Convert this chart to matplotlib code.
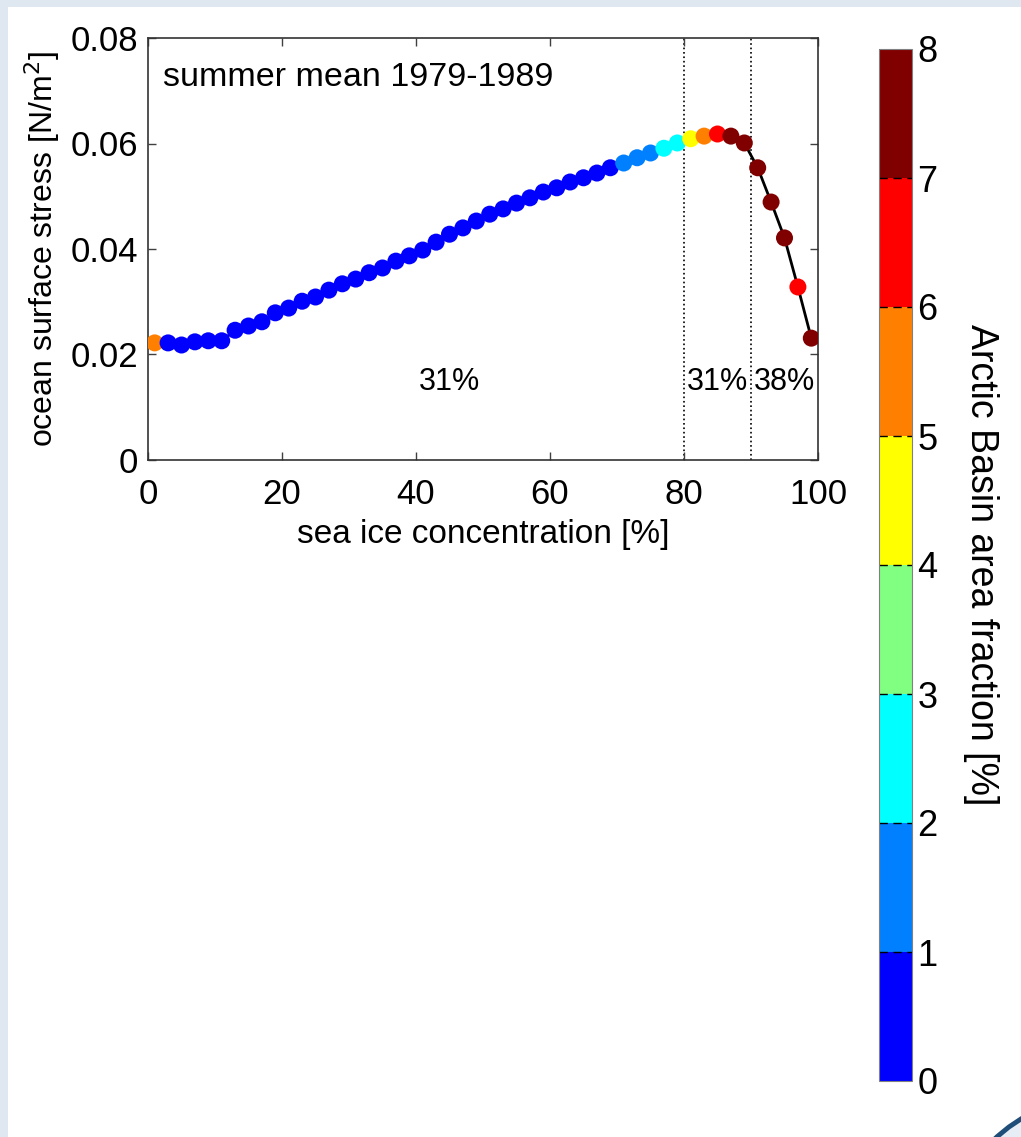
import numpy as np
import matplotlib
import matplotlib.pyplot as plt
from matplotlib.colors import ListedColormap, BoundaryNorm
from matplotlib.patches import Rectangle, Circle

plt.rcParams['font.family'] = ['Liberation Sans', 'DejaVu Sans']

# sea ice concentration bin centres [%]
sic = np.arange(1, 100, 2)

# summer mean ocean surface stress [N/m^2]
stress = [0.0222, 0.0222, 0.0218, 0.0224, 0.0226, 0.0226, 0.0246, 0.0254, 0.0262, 0.0279,
          0.0288, 0.0301, 0.0309, 0.0322, 0.0334, 0.0343, 0.0355, 0.0364, 0.0377, 0.0387,
          0.0398, 0.0413, 0.0428, 0.0440, 0.0453, 0.0466, 0.0476, 0.0487, 0.0497, 0.0508,
          0.0516, 0.0527, 0.0535, 0.0544, 0.0554, 0.0563, 0.0573, 0.0582, 0.0591, 0.0601,
          0.0609, 0.0614, 0.0618, 0.0614, 0.0601, 0.0554, 0.0489, 0.0421, 0.0328, 0.0231]

# Arctic Basin area fraction of each bin [%]
area_frac = [5.5, 0.3, 0.3, 0.3, 0.3, 0.3, 0.4, 0.4, 0.4, 0.4,
             0.4, 0.4, 0.4, 0.5, 0.5, 0.5, 0.5, 0.5, 0.5, 0.5,
             0.5, 0.5, 0.5, 0.5, 0.5, 0.6, 0.6, 0.6, 0.6, 0.6,
             0.6, 0.7, 0.7, 0.8, 0.9, 1.2, 1.4, 1.6, 2.2, 2.6,
             4.4, 5.6, 6.4, 7.2, 7.4, 7.8, 7.9, 7.8, 6.7, 7.8]

region_x = [45, 85, 95]
region_labels = ['31%', '31%', '38%']

# matlab jet(8)
jet8 = ListedColormap([(0, 0, 1), (0, 0.5, 1), (0, 1, 1), (0.5, 1, 0.5),
                       (1, 1, 0), (1, 0.5, 0), (1, 0, 0), (0.5, 0, 0)])
norm = BoundaryNorm(np.arange(0, 9), jet8.N)

W, H = 1021, 1137
fig = plt.figure(figsize=(W / 100, H / 100), dpi=100)

# slide-like background bits
fig.patches.append(Rectangle((0, 1 - 7 / H), 1, 7 / H, transform=fig.transFigure,
                             facecolor='#dfe7f1', edgecolor='none', zorder=0))
fig.patches.append(Rectangle((0, 0), 8 / W, 1, transform=fig.transFigure,
                             facecolor='#dfe7f1', edgecolor='none', zorder=0))
fig.patches.append(Circle((1100, -113), 153, transform=None,
                          facecolor='#e6edf5', edgecolor='#1f4e79', lw=3.5, zorder=0))

ax = fig.add_axes([148 / W, 1 - 460 / H, 670 / W, 422 / H])
ax.plot(sic, stress, color='k', lw=2, zorder=2)
sc = ax.scatter(sic, stress, c=area_frac, cmap=jet8, norm=norm, s=150,
                edgecolors='none', zorder=3)
ax.axvline(80, color='k', ls=':', lw=1.2, zorder=1)
ax.axvline(90, color='k', ls=':', lw=1.2, zorder=1)

for xx, lab in zip(region_x, region_labels):
    ax.text(xx, 0.0148, lab, ha='center', va='center', fontsize=22)
ax.text(2.2, 0.0726, 'summer mean 1979-1989', ha='left', va='center', fontsize=24.5)

ax.set_xlim(0, 100)
ax.set_ylim(0, 0.08)
ax.set_xticks([0, 20, 40, 60, 80, 100])
ax.set_yticks([0, 0.02, 0.04, 0.06, 0.08])
ax.set_yticklabels(['0', '0.02', '0.04', '0.06', '0.08'])
ax.tick_params(direction='in', top=True, right=True, length=6, width=1,
               labelsize=25, color='0.25')
ax.tick_params(axis='x', pad=13)
ax.tick_params(axis='y', pad=7)
for s in ax.spines.values():
    s.set_color('0.2')
    s.set_linewidth(1.2)
ax.set_xlabel('sea ice concentration [%]', fontsize=24, labelpad=6)
ax.set_ylabel('ocean surface stress [N/m$^2$]', fontsize=23, labelpad=6)

cax = fig.add_axes([879 / W, 1 - 1081 / H, 33 / W, 1032 / H])
cb = fig.colorbar(sc, cax=cax, ticks=np.arange(0, 9))
cb.outline.set_edgecolor('0.5')
cax.hlines(np.arange(1, 8), 0, 1, colors='k', lw=1, linestyles=(0, (6, 4)),
           transform=cax.get_yaxis_transform())
cax.tick_params(length=0, labelsize=26, pad=4)
cb.set_label('Arctic Basin area fraction [%]', fontsize=27, rotation=270, labelpad=44)

fig.savefig('out.png', dpi=100)
